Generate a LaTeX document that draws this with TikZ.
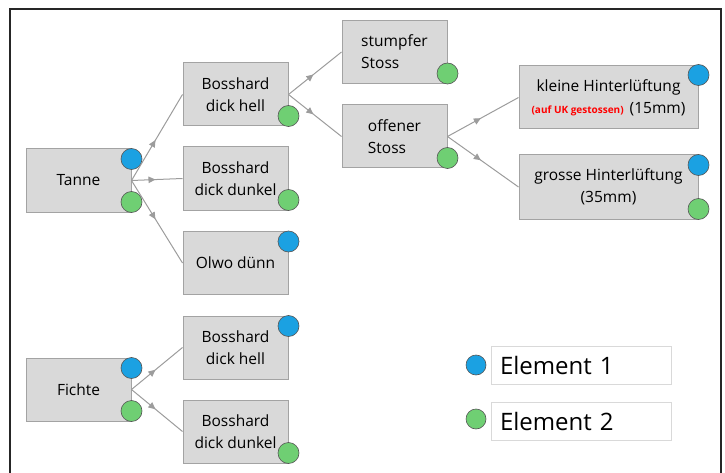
\documentclass[tikz,border=0pt]{standalone}
\usepackage{fontspec}
\setmainfont{Open Sans}
\usetikzlibrary{arrows.meta,decorations.markings}
\definecolor{boxfill}{HTML}{D9D9D9}
\definecolor{boxline}{HTML}{A3A3A3}
\definecolor{linkgray}{HTML}{9C9C9C}
\definecolor{elblue}{HTML}{1BA1E2}
\definecolor{elgreen}{HTML}{6FCF73}
\definecolor{dotline}{HTML}{555555}
\definecolor{legline}{HTML}{D9D9D9}
\tikzset{
  woodbox/.style = {draw = boxline, fill = boxfill, line width = 1pt, minimum width = 105pt, minimum height = 63pt, align = center, font = \fontsize{15.5}{22}\selectfont},
  elone/.style = {circle, draw = dotline, fill = elblue, line width = 0.6pt, minimum size = 21pt, inner sep = 0pt},
  eltwo/.style = {elone, fill = elgreen},
  link/.style = {draw = linkgray, line width = 1pt, postaction = {decorate},
    decoration = {markings, mark = at position 0.47 with {\arrow[linkgray]{Triangle[length = 7pt, width = 6.5pt]}}}},
  legbox/.style = {draw = legline, fill = white, line width = 0.8pt, minimum width = 180pt, minimum height = 38pt, text width = 162pt, inner xsep = 9pt, align = left, font = \fontsize{24}{26}\selectfont}
}
\begin{document}
\begin{tikzpicture}[x = 1pt, y = -1pt]
\useasboundingbox (0,0) rectangle (725,473);
\draw[line width = 2pt, black!85] (10,473) -- (10,9) -- (721,9) -- (721,473);

\node[woodbox] (tanne) at (78.5,180.5) {Tanne};
\node[woodbox] (bhA) at (235.5,94.5) {Bosshard\\dick hell};
\node[woodbox] (bdA) at (235.5,178.5) {Bosshard\\dick dunkel};
\node[woodbox] (olwo) at (235.5,263) {Olwo dünn};
\node[woodbox, align = left] (stumpf) at (394.5,52) {stumpfer\\Stoss};
\node[woodbox, align = left] (offen) at (394.5,136.5) {offener\\Stoss};
\node[woodbox, minimum width = 179pt] (klein) at (608.5,97.5) {kleine Hinterlüftung\\{\color{red}\fontsize{10}{12}\selectfont\bfseries (auf UK gestossen)}\hspace{6pt}(15mm)};
\node[woodbox, minimum width = 179pt, minimum height = 64pt] (gross) at (608.5,187) {grosse Hinterlüftung\\(35mm)};
\node[woodbox] (fichte) at (78.5,389.5) {Fichte};
\node[woodbox] (bhB) at (235.5,347.5) {Bosshard\\dick hell};
\node[woodbox] (bdB) at (235.5,431.5) {Bosshard\\dick dunkel};

\node[elone] (tanneE1) at ([yshift = -10.5pt]tanne.north east) {};
\node[eltwo] (tanneE2) at ([yshift = 10.5pt]tanne.south east) {};
\node[eltwo] (bhAE2) at ([yshift = 10.5pt]bhA.south east) {};
\node[eltwo] (bdAE2) at ([yshift = 10.5pt]bdA.south east) {};
\node[elone] (olwoE1) at ([yshift = -10.5pt]olwo.north east) {};
\node[eltwo] (stumpfE2) at ([yshift = 10.5pt]stumpf.south east) {};
\node[eltwo] (offenE2) at ([yshift = 10.5pt]offen.south east) {};
\node[elone] (kleinE1) at ([yshift = -9.5pt]klein.north east) {};
\node[elone] (grossE1) at ([yshift = -10.5pt]gross.north east) {};
\node[eltwo] (grossE2) at ([yshift = 10.5pt]gross.south east) {};
\node[elone] (fichteE1) at ([yshift = -10.5pt]fichte.north east) {};
\node[eltwo] (fichteE2) at ([yshift = 10.5pt]fichte.south east) {};
\node[elone] (bhBE1) at ([yshift = -10.5pt]bhB.north east) {};
\node[eltwo] (bdBE2) at ([yshift = 10.5pt]bdB.south east) {};

\draw[link] (tanne.east) -- (bhA.west);
\draw[link] (tanne.east) -- (bdA.west);
\draw[link] (tanne.east) -- (olwo.west);
\draw[link] (bhA.east) -- (stumpf.west);
\draw[link] (bhA.east) -- (offen.west);
\draw[link] (offen.east) -- (klein.west);
\draw[link] (offen.east) -- (gross.west);
\draw[link] (fichte.east) -- (bhB.west);
\draw[link] (fichte.east) -- (bdB.west);

\node[legbox] (leg1) at (581,365) {Element 1};
\node[legbox] (leg2) at (581,421) {Element 2};
\node[elone, minimum size = 20pt] (legE1) at (476,365) {};
\node[eltwo, minimum size = 20pt] (legE2) at (476,419) {};
\end{tikzpicture}
\end{document}
